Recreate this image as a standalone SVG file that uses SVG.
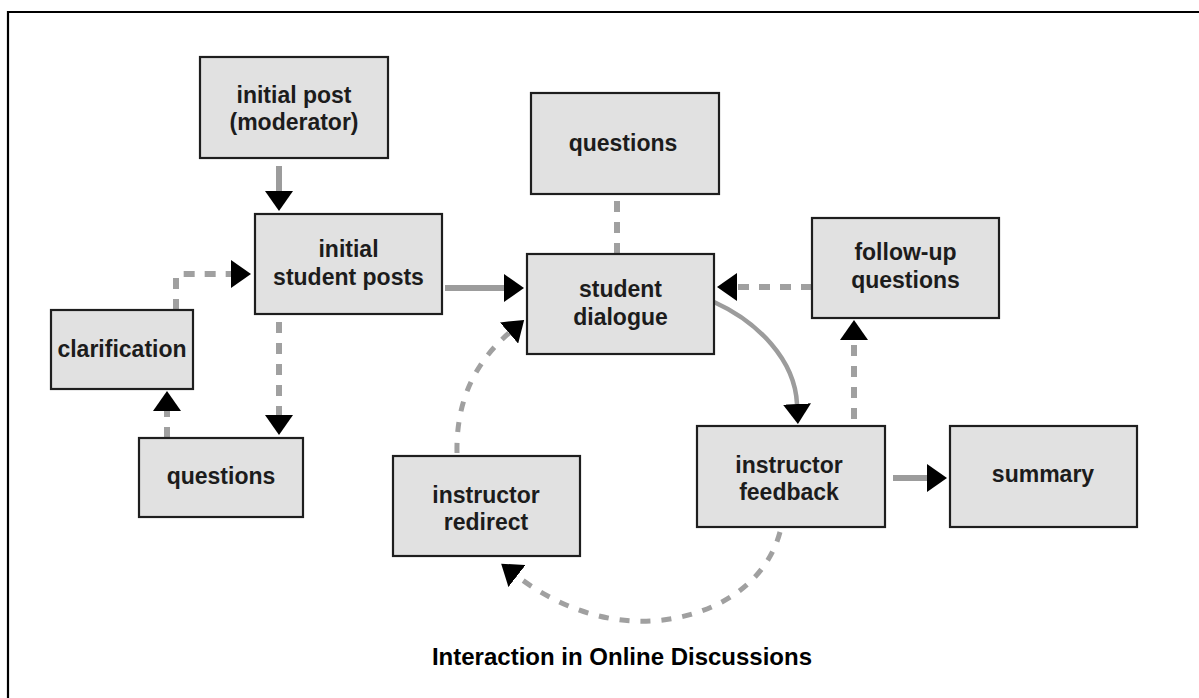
<svg xmlns="http://www.w3.org/2000/svg" width="1199" height="698" viewBox="0 0 1199 698">
  <style>
    .box { fill: #e1e1e1; stroke: #1e1e1e; stroke-width: 2.2; }
    .lbl { font-family: "Liberation Sans", Arial, sans-serif; font-weight: bold; font-size: 23px; fill: #1c1c1c; text-anchor: middle; }
    .title { font-family: "Liberation Sans", Arial, sans-serif; font-weight: bold; font-size: 24px; fill: #000; text-anchor: middle; }
    .solid { fill: none; stroke: #9c9c9c; stroke-width: 6; }
    .curve { fill: none; stroke: #9c9c9c; stroke-width: 4.5; }
    .dash { fill: none; stroke: #a0a0a0; stroke-width: 6; stroke-dasharray: 11 10; }
    .dashc { fill: none; stroke: #a0a0a0; stroke-width: 5; stroke-dasharray: 10 11; }
    .frame { fill: none; stroke: #000; stroke-width: 2.2; }
  </style>
  <defs>
    <!-- black triangular head; path ends at the head's base -->
    <marker id="head" viewBox="0 0 20 28" refX="0" refY="14" markerWidth="20" markerHeight="28" markerUnits="userSpaceOnUse" orient="auto">
      <path d="M0,0 L20,14 L0,28 Z" fill="#000"/>
    </marker>
  </defs>

  <rect width="1199" height="698" fill="#fff"/>
  <!-- border (top and left edges) -->
  <path class="frame" d="M8,698 V12 H1199"/>

  <g id="connectors">
    <path class="solid" d="M279,166 V191" marker-end="url(#head)"/>
    <path class="solid" d="M445,288 H504" marker-end="url(#head)"/>
    <path class="dash" d="M176,310 V278 Q176,274 180,274 H231" marker-end="url(#head)"/>
    <path class="dash" d="M279,322 V415" marker-end="url(#head)"/>
    <path class="dash" d="M167,438 V411" marker-end="url(#head)"/>
    <path class="dash" d="M617,201 V253"/>
    <path class="dash" d="M812,287 H737" marker-end="url(#head)"/>
    <path class="curve" d="M714,302 C758,322 795,360 797,404" marker-end="url(#head)"/>
    <path class="dash" d="M854,419 V340" marker-end="url(#head)"/>
    <path class="solid" d="M893,478 H927" marker-end="url(#head)"/>
    <path class="dashc" d="M780,532 C762,598 690,624 633,621 C590,619 548,600 517,576" marker-end="url(#head)"/>
    <path class="dashc" d="M457,453 C456,405 472,365 509,333" marker-end="url(#head)"/>
  </g>

  <g id="initial-post">
    <rect class="box" x="200" y="57" width="188" height="101"/>
    <text class="lbl" x="294" y="103">initial post</text>
    <text class="lbl" x="294" y="130">(moderator)</text>
  </g>
  <g id="initial-student-posts">
    <rect class="box" x="255" y="214" width="187" height="100"/>
    <text class="lbl" x="348.5" y="257">initial</text>
    <text class="lbl" x="348.5" y="285">student posts</text>
  </g>
  <g id="clarification">
    <rect class="box" x="51" y="310" width="142" height="79"/>
    <text class="lbl" x="122" y="357">clarification</text>
  </g>
  <g id="questions-left">
    <rect class="box" x="139" y="438" width="164" height="79"/>
    <text class="lbl" x="221" y="484">questions</text>
  </g>
  <g id="questions-top">
    <rect class="box" x="531" y="93" width="188" height="101"/>
    <text class="lbl" x="623" y="151">questions</text>
  </g>
  <g id="student-dialogue">
    <rect class="box" x="527" y="254" width="187" height="100"/>
    <text class="lbl" x="620.5" y="297">student</text>
    <text class="lbl" x="620.5" y="325">dialogue</text>
  </g>
  <g id="follow-up-questions">
    <rect class="box" x="812" y="218" width="187" height="100"/>
    <text class="lbl" x="905.5" y="260">follow-up</text>
    <text class="lbl" x="905.5" y="288">questions</text>
  </g>
  <g id="instructor-redirect">
    <rect class="box" x="393" y="456" width="187" height="100"/>
    <text class="lbl" x="486" y="503">instructor</text>
    <text class="lbl" x="486" y="530">redirect</text>
  </g>
  <g id="instructor-feedback">
    <rect class="box" x="697" y="426" width="188" height="101"/>
    <text class="lbl" x="789" y="473">instructor</text>
    <text class="lbl" x="789" y="500">feedback</text>
  </g>
  <g id="summary">
    <rect class="box" x="950" y="426" width="187" height="101"/>
    <text class="lbl" x="1043" y="482">summary</text>
  </g>

  <text class="title" x="622" y="665">Interaction in Online Discussions</text>
</svg>
